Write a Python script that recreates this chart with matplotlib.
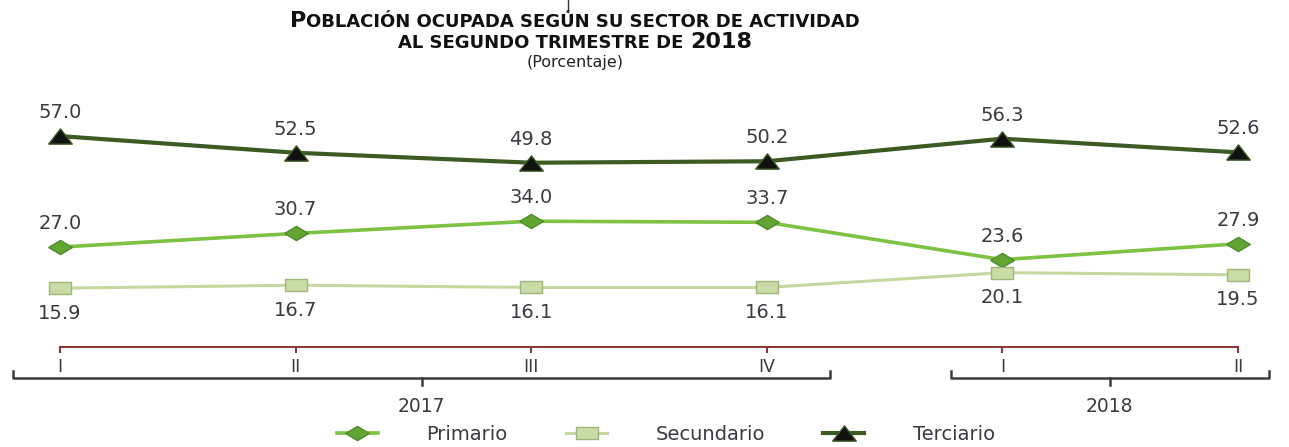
import numpy as np
import matplotlib
matplotlib.use("Agg")
import matplotlib.pyplot as plt
from matplotlib.lines import Line2D
import matplotlib.transforms as mtransforms

# datos
trimestres = ["I", "II", "III", "IV", "I", "II"]
anios = ["2017", "2018"]
primario = [27.0, 30.7, 34.0, 33.7, 23.6, 27.9]
secundario = [15.9, 16.7, 16.1, 16.1, 20.1, 19.5]
terciario = [57.0, 52.5, 49.8, 50.2, 56.3, 52.6]

W, H = 1289, 447
fig = plt.figure(figsize=(W / 100, H / 100), dpi=100)
ax = fig.add_axes([60 / W, 1 - 347 / H, (1238 - 60) / W, (347 - 125) / H])

x = np.arange(len(trimestres))

# marcadores anchos (la imagen original esta estirada)
tri = [(-1.55, -1), (1.55, -1), (0, 1), (-1.55, -1)]
rombo = [(-1, 0), (0, 0.6), (1, 0), (0, -0.6), (-1, 0)]
cuad = [(-1, -0.55), (1, -0.55), (1, 0.55), (-1, 0.55), (-1, -0.55)]

txt_col = "#3a3a42"

l1, = ax.plot(x, primario, color="#7dc243", lw=2.6, marker=rombo, ms=17,
              mfc="#62a532", mec="#4f8a2a", mew=1, label="Primario", clip_on=False)
l2, = ax.plot(x, secundario, color="#c5d89f", lw=2.2, marker=cuad, ms=16,
              mfc="#cadca6", mec="#9fb67a", mew=1, label="Secundario", clip_on=False)
l3, = ax.plot(x, terciario, color="#3d5a24", lw=3, marker=tri, ms=17,
              mfc="#111111", mec="#3d5a24", mew=1, label="Terciario", clip_on=False)

for xi, v in zip(x, terciario):
    ax.annotate(f"{v:.1f}", (xi, v), xytext=(0, 17), textcoords="offset points",
                ha="center", va="center", fontsize=14, color=txt_col)
for xi, v in zip(x, primario):
    ax.annotate(f"{v:.1f}", (xi, v), xytext=(0, 17), textcoords="offset points",
                ha="center", va="center", fontsize=14, color=txt_col)
for xi, v in zip(x, secundario):
    ax.annotate(f"{v:.1f}", (xi, v), xytext=(0, -18), textcoords="offset points",
                ha="center", va="center", fontsize=14, color=txt_col)

ax.set_xlim(0, len(trimestres) - 1)
ax.set_ylim(0, 60)
for s in ["top", "right", "left"]:
    ax.spines[s].set_visible(False)
ax.spines["bottom"].set_color("#8b3a3a")
ax.spines["bottom"].set_linewidth(1.5)
ax.set_yticks([])
ax.set_xticks(x)
ax.set_xticklabels(trimestres, fontsize=12.5, color=txt_col)
ax.tick_params(axis="x", direction="out", length=4, width=1.5, color="#8b3a3a", pad=4)
ax.patch.set_alpha(0)

# llaves de los anios
trans = mtransforms.blended_transform_factory(ax.transData, ax.transAxes)
llaves = [(-0.2, 3.27), (3.78, 5.13)]
for (a, b), anio in zip(llaves, anios):
    c = (a + b) / 2
    ax.plot([a, a, b, b], [-0.11, -0.14, -0.14, -0.11], transform=trans,
            color="#3c3c3c", lw=1.8, clip_on=False, solid_joinstyle="round")
    ax.plot([c, c], [-0.14, -0.17], transform=trans, color="#3c3c3c", lw=1.8,
            clip_on=False)
    ax.text(c, -0.27, anio, transform=trans, ha="center", va="center",
            fontsize=13.5, color=txt_col)

# leyenda
fig.legend(handles=[l1, l2, l3], loc="center", bbox_to_anchor=(666 / W, 1 - 434 / H),
           ncol=3, frameon=False, fontsize=14, handlelength=2.1,
           handletextpad=2.5, columnspacing=3.0, labelcolor=txt_col)

# titulo con versalitas
renderer = fig.canvas.get_renderer()


def linea_titulo(partes, y_px, cx_px=575):
    objs = []
    for s, size in partes:
        t = fig.text(0, 1 - y_px / H, s, fontsize=size, fontweight="bold",
                     va="baseline", ha="left", color="#111111")
        objs.append(t)
    anchos = [t.get_window_extent(renderer).width for t in objs]
    x0 = cx_px - sum(anchos) / 2
    for t, w in zip(objs, anchos):
        t.set_x(x0 / W)
        x0 += w


linea_titulo([("P", 16), ("OBLACIÓN OCUPADA SEGÚN SU SECTOR DE ACTIVIDAD", 13)], 27)
linea_titulo([("AL SEGUNDO TRIMESTRE DE ", 13), ("2018", 16)], 48)
fig.text(575 / W, 1 - 63 / H, "(Porcentaje)", ha="center", va="center",
         fontsize=11.5, color="#222222")

# pequena marca vertical arriba del titulo
fig.add_artist(Line2D([568 / W, 568 / W], [1, 1 - 12 / H], color="#333333", lw=1))

fig.savefig("out.png", dpi=100)
